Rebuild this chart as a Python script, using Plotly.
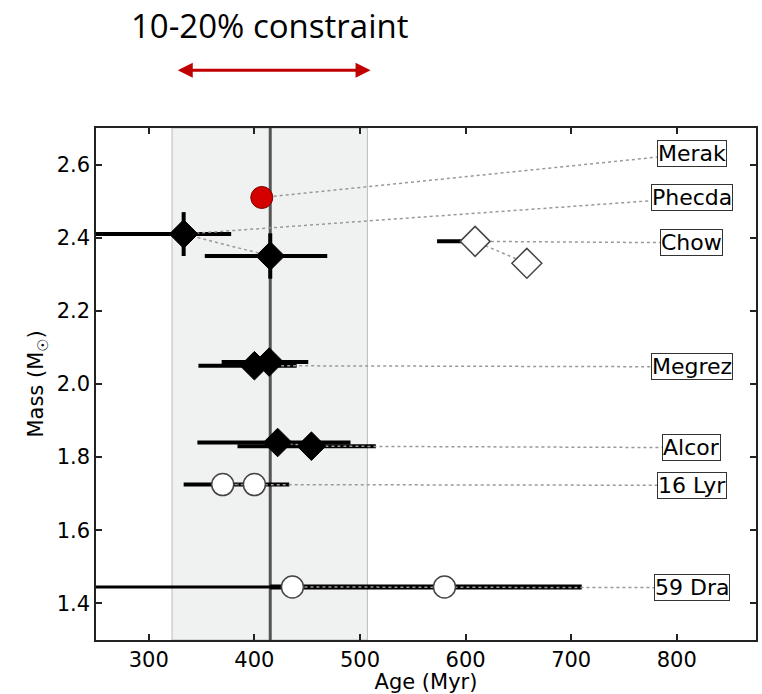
import plotly.graph_objects as go

# ---------------- data ----------------
x_range = [250, 875]
y_range = [1.3, 2.7]
x_ticks = [300, 400, 500, 600, 700, 800]
y_ticks = [1.4, 1.6, 1.8, 2.0, 2.2, 2.4, 2.6]

constraint_lo = 322
constraint_hi = 507
constraint_center = 415
arrow_lo = 326
arrow_hi = 510

stars = ["Merak", "Phecda", "Chow", "Megrez", "Alcor", "16 Lyr", "59 Dra"]
label_mass = [2.63, 2.509, 2.386, 2.047, 1.826, 1.723, 1.443]
label_age = 814

merak_age = [407]
merak_mass = [2.51]
merak_age_minus = [0]
merak_age_plus = [0]

phecda_age = [415, 333]
phecda_mass = [2.35, 2.41]
phecda_age_minus = [62, 90]
phecda_age_plus = [54, 45]
phecda_mass_err = [0.062, 0.06]

chow_age = [658, 609]
chow_mass = [2.33, 2.39]
chow_age_minus = [0, 36]
chow_age_plus = [0, 10]

megrez_age = [414, 400]
megrez_mass = [2.06, 2.05]
megrez_age_minus = [45, 53]
megrez_age_plus = [37, 40]

alcor_age = [422, 454]
alcor_mass = [1.84, 1.83]
alcor_age_minus = [76, 70]
alcor_age_plus = [69, 61]

lyr_age = [370, 400]
lyr_mass = [1.725, 1.725]
lyr_age_minus = [37, 15]
lyr_age_plus = [15, 33]

dra_age = [436, 580]
dra_mass = [1.445, 1.445]
dra_age_minus = [200, 165]
dra_age_plus = [0, 130]

# ---------------- styles ----------------
FONT = "DejaVu Sans"
black_diamond = dict(symbol="diamond", size=22, color="black", line=dict(color="black", width=1))
open_diamond = dict(symbol="diamond", size=23, color="white", line=dict(color="#444", width=1.5))
open_circle = dict(symbol="circle", size=22, color="white", line=dict(color="#444", width=1.5))
red_circle = dict(symbol="circle", size=22, color="#d40000", line=dict(color="#7a0000", width=1))

series = [
    ("Merak", merak_age, merak_mass, merak_age_minus, merak_age_plus, None, red_circle, [4]),
    ("Phecda", phecda_age, phecda_mass, phecda_age_minus, phecda_age_plus, phecda_mass_err, black_diamond, [4, 4]),
    ("Chow", chow_age, chow_mass, chow_age_minus, chow_age_plus, None, open_diamond, [4, 4]),
    ("Megrez", megrez_age, megrez_mass, megrez_age_minus, megrez_age_plus, None, black_diamond, [4, 4]),
    ("Alcor", alcor_age, alcor_mass, alcor_age_minus, alcor_age_plus, None, black_diamond, [4, 4]),
    ("16 Lyr", lyr_age, lyr_mass, lyr_age_minus, lyr_age_plus, None, open_circle, [4, 4]),
    ("59 Dra", dra_age, dra_mass, dra_age_minus, dra_age_plus, None, open_circle, [3, 5]),
]

fig = go.Figure()

# error bars (each point separately so thickness can vary)
for name, ages, masses, amin, aplus, merr, mk, thick in series:
    for i in range(len(ages)):
        if amin[i] == 0 and aplus[i] == 0 and merr is None:
            continue
        tr = dict(
            x=[ages[i]], y=[masses[i]], mode="markers",
            marker=dict(size=1, color="rgba(0,0,0,0)"),
            error_x=dict(type="data", symmetric=False, array=[aplus[i]], arrayminus=[amin[i]],
                         color="black", thickness=thick[i], width=0),
            hoverinfo="skip", showlegend=False, cliponaxis=True,
        )
        if merr is not None:
            tr["error_y"] = dict(type="data", array=[merr[i]], color="black",
                                 thickness=thick[i], width=0)
        fig.add_trace(go.Scatter(**tr))

# dotted connectors to labels
for k, (name, ages, masses, amin, aplus, merr, mk, thick) in enumerate(series):
    fig.add_trace(go.Scatter(
        x=list(ages) + [label_age], y=list(masses) + [label_mass[k]],
        mode="lines", line=dict(color="#999", width=1.5, dash="dot"),
        hoverinfo="skip", showlegend=False,
    ))

# markers
for name, ages, masses, amin, aplus, merr, mk, thick in series:
    fig.add_trace(go.Scatter(
        x=ages, y=masses, mode="markers", marker=mk, name=name,
        showlegend=False, cliponaxis=False,
    ))

# labels
for k, name in enumerate(stars):
    fig.add_annotation(
        x=label_age, y=label_mass[k], xref="x", yref="y", text=name, showarrow=False,
        font=dict(family=FONT, size=22, color="black"),
        bgcolor="white", bordercolor="#333", borderwidth=1, borderpad=0,
    )

# constraint band and line
fig.add_shape(type="rect", xref="x", yref="paper", x0=constraint_lo, x1=constraint_hi, y0=0, y1=1,
              fillcolor="#f0f1f1", line=dict(color="#bbbbbb", width=1), layer="below")
fig.add_shape(type="line", xref="x", yref="paper", x0=constraint_center, x1=constraint_center, y0=0, y1=1,
              line=dict(color="#555", width=3), layer="below")

# title and double arrow
fig.add_annotation(
    x=constraint_center, y=1.201, xref="x", yref="paper", text="10-20% constraint",
    xanchor="center", yanchor="middle",
    showarrow=False, font=dict(family="Open Sans", size=33, color="black"),
)
fig.add_annotation(
    x=arrow_hi, y=1.113, xref="x", yref="paper",
    ax=arrow_lo, ay=0, axref="x", ayref="pixel",
    text="", showarrow=True, arrowside="end+start", arrowhead=2, arrowsize=1,
    arrowwidth=3, arrowcolor="#c00000",
)

axis_common = dict(
    showline=True, linecolor="#222", linewidth=1.5, mirror="ticks",
    ticks="inside", ticklen=6, tickwidth=1.5, tickcolor="#222",
    showgrid=False, zeroline=False,
    tickfont=dict(family=FONT, size=21, color="black"),
)

fig.update_layout(
    width=762, height=694,
    margin=dict(l=96, r=4, t=128, b=54),
    paper_bgcolor="white", plot_bgcolor="white",
    xaxis=dict(range=x_range, tickvals=x_ticks, ticktext=[str(v) for v in x_ticks],
               title=dict(text="Age (Myr)", font=dict(family=FONT, size=21, color="black"), standoff=2),
               **axis_common),
    yaxis=dict(range=y_range, tickvals=y_ticks, ticktext=[f"{v:.1f}" for v in y_ticks],
               title=dict(text="Mass (M<sub>☉</sub>)", font=dict(family=FONT, size=21, color="black"), standoff=7),
               **axis_common),
)

fig.write_html("out.html", config={"displayModeBar": False},
               post_script="document.body.style.margin='0';document.body.style.padding='0';")
